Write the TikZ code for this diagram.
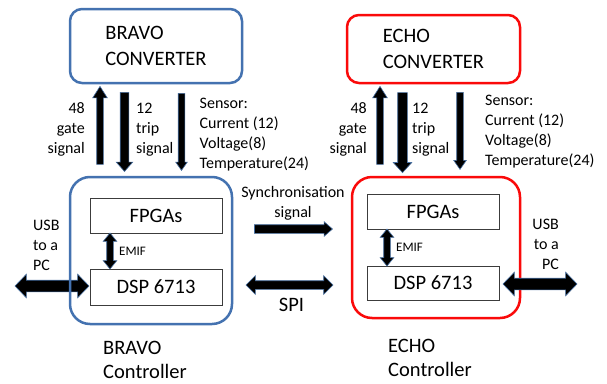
\documentclass[tikz,border=0pt]{standalone}
\usepackage{fontspec}
\setmainfont{Carlito}
\usetikzlibrary{shapes.arrows}
\definecolor{ctrlblue}{RGB}{68,114,176}
\definecolor{ctrlred}{RGB}{250,10,10}
\definecolor{arrowblue}{RGB}{70,110,160}
\definecolor{boxgray}{RGB}{60,60,60}
\newcommand\mystack[2]{\begin{tabular}[t]{@{}#1@{}}#2\end{tabular}}
\tikzset{
  bigfont/.style={font=\fontsize{20.5}{25.5}\selectfont},
  midfont/.style={font=\fontsize{16}{20}\selectfont},
  smallfont/.style={font=\fontsize{13}{15}\selectfont},
  convbox/.style={draw, line width=2.5pt, rounded corners=12pt, align=left, bigfont, inner sep=0pt},
  ctrlbox/.style={draw, line width=2.5pt, rounded corners=20pt, inner sep=0pt},
  chipbox/.style={draw=boxgray, line width=0.9pt, fill=white, bigfont, inner sep=0pt},
  lbl/.style={inner sep=0pt},
  sarrow/.style n args={4}{single arrow, fill=black, draw=arrowblue, line width=0.6pt,
    inner xsep=0pt, inner ysep={#3*0.5pt}, minimum height={#1*1pt}, minimum width={#2*1pt},
    single arrow head extend={(#2-#3)*0.5pt}, single arrow tip angle=#4},
  darrow/.style n args={4}{double arrow, fill=black, draw=arrowblue, line width=0.6pt,
    inner xsep=0pt, inner ysep={#3*0.5pt}, minimum height={#1*1pt}, minimum width={#2*1pt},
    double arrow head extend={(#2-#3)*0.5pt}, double arrow tip angle=#4},
}
\begin{document}
\begin{tikzpicture}[x=1pt,y=-1pt]
\useasboundingbox[fill=white] (0,0) rectangle (607,383);

% converters
\node[convbox, draw=ctrlblue, minimum width=172pt, minimum height=74pt] (bconv) at (156,46) {BRAVO\\CONVERTER};
\node[convbox, draw=ctrlred, minimum width=173pt, minimum height=68pt] (econv) at (433.5,49) {ECHO\\CONVERTER};

% BRAVO USB arrow (under the controller outline)
\node[darrow={74}{23}{11}{92}] (busb) at (52,286) {};

% controllers
\node[ctrlbox, draw=ctrlblue, minimum width=162pt, minimum height=147pt] (bctrl) at (151,250.5) {};
\node[ctrlbox, draw=ctrlred, minimum width=168pt, minimum height=141pt] (ectrl) at (436,247.5) {};

% chips
\node[chipbox, minimum width=132pt, minimum height=35pt] (bfpga) at (156,215.5) {FPGAs};
\node[chipbox, minimum width=132pt, minimum height=36pt] (bdsp) at (156,287) {DSP 6713};
\node[chipbox, minimum width=132pt, minimum height=35pt] (efpga) at (433,211.5) {FPGAs};
\node[chipbox, minimum width=132pt, minimum height=34pt] (edsp) at (433,283) {DSP 6713};

% vertical arrows BRAVO
\node[sarrow={78}{14}{6}{65}, rotate=90] (bgate) at (100,128) {};
\node[sarrow={79}{16}{8}{83}, rotate=-90] (btrip) at (124.5,129.5) {};
\node[sarrow={77}{11}{6}{70}, rotate=-90] (bsens) at (181.5,129.5) {};
% vertical arrows ECHO
\node[sarrow={78}{14}{6}{65}, rotate=90] (egate) at (380,128) {};
\node[sarrow={80}{18}{9}{85}, rotate=-90] (etrip) at (402.5,130) {};
\node[sarrow={77}{12}{6}{70}, rotate=-90] (esens) at (460,128.5) {};

% EMIF arrows
\node[darrow={36}{13}{6}{78}, rotate=90] (bemif) at (110,251) {};
\node[darrow={37}{13}{6}{78}, rotate=90] (eemif) at (387,247.5) {};

% ECHO USB arrow
\node[darrow={74}{23}{11}{92}] (eusb) at (540,284) {};

% sync and SPI
\node[sarrow={78}{14}{8}{82}] (sync) at (291,229) {};
\node[darrow={87}{18}{8}{90}] (spi) at (289.5,285) {};

% labels
\node[lbl, midfont, anchor=base east] (bgatet) at (85,113) {\mystack{r}{48\\gate\\signal}};
\node[lbl, midfont, anchor=base west] (btript) at (136,113) {\mystack{l}{12\\trip\\signal}};
\node[lbl, midfont, anchor=base west] (bsenst) at (199.5,108) {\mystack{l}{Sensor:\\Current (12)\\Voltage(8)\\Temperature(24)}};
\node[lbl, midfont, anchor=base east] (egatet) at (367,113) {\mystack{r}{48\\gate\\signal}};
\node[lbl, midfont, anchor=base west] (etript) at (412,113) {\mystack{l}{12\\trip\\signal}};
\node[lbl, midfont, anchor=base west] (esenst) at (485,105) {\mystack{l}{Sensor:\\Current (12)\\Voltage(8)\\Temperature(24)}};

\node[lbl, midfont, anchor=base west] (busbt) at (33,230) {\mystack{l}{USB\\to a\\PC}};
\node[lbl, midfont, anchor=base east] (eusbt) at (559,229) {\mystack{r}{USB\\to a\\PC}};

\node[lbl, midfont, anchor=base] (synct) at (293,197) {\mystack{c}{Synchronisation\\signal}};
\node[lbl, bigfont, anchor=base] (spit) at (291.5,311) {SPI};

\node[lbl, smallfont, anchor=base west] (bemift) at (119,255) {EMIF};
\node[lbl, smallfont, anchor=base west] (eemift) at (396,251) {EMIF};

\node[lbl, font=\fontsize{20.5}{24.5}\selectfont, anchor=base west] (bctrlt) at (103,354) {\mystack{l}{BRAVO\\Controller}};
\node[lbl, font=\fontsize{20.5}{24.5}\selectfont, anchor=base west] (ectrlt) at (388,352) {\mystack{l}{ECHO\\Controller}};
\end{tikzpicture}
\end{document}
